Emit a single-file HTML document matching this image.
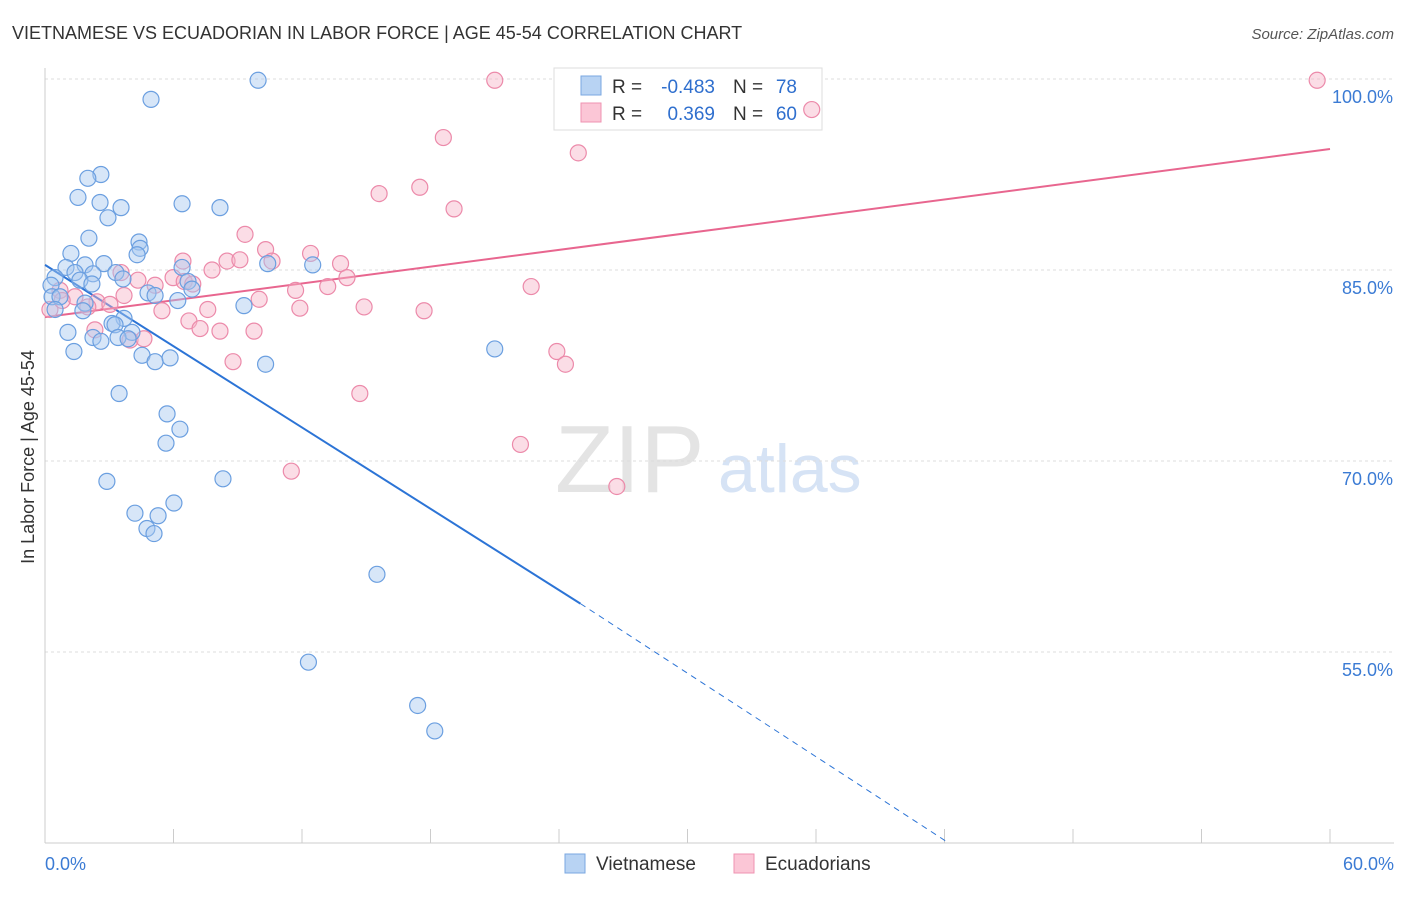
<!DOCTYPE html>
<html><head><meta charset="utf-8"><style>
body{margin:0;background:#fff;font-family:"Liberation Sans",sans-serif}
svg text{font-family:"Liberation Sans",sans-serif}
</style></head><body>
<svg id="chart" width="1406" height="892">
<text x="12" y="39" font-size="18" fill="#333">VIETNAMESE VS ECUADORIAN IN LABOR FORCE | AGE 45-54 CORRELATION CHART</text>
<text x="1394" y="39" font-size="15" fill="#555" font-style="italic" text-anchor="end">Source: ZipAtlas.com</text>
<text x="34" y="457" font-size="18" fill="#333" text-anchor="middle" transform="rotate(-90 34 457)">In Labor Force | Age 45-54</text>
<text x="555" y="492" font-size="96" fill="#e4e4e4" font-family="Liberation Serif">ZIP</text>
<text x="718" y="492" font-size="68" fill="#d6e3f5">atlas</text>
<g id="grid"></g><g id="axes"></g>
<g>
<rect x="554" y="68" width="268" height="62" fill="#fff" stroke="#ddd"/>
<rect x="581" y="76" width="20" height="19" fill="#b8d3f3" stroke="#7aa7e0"/>
<rect x="581" y="103" width="20" height="19" fill="#fbc6d6" stroke="#ef93b1"/>
<text x="612" y="93" font-size="19" fill="#333">R =</text>
<text x="715" y="93" font-size="19" fill="#2f6fce" text-anchor="end">-0.483</text>
<text x="733" y="93" font-size="19" fill="#333">N =</text>
<text x="797" y="93" font-size="19" fill="#2f6fce" text-anchor="end">78</text>
<text x="612" y="120" font-size="19" fill="#333">R =</text>
<text x="715" y="120" font-size="19" fill="#2f6fce" text-anchor="end">0.369</text>
<text x="733" y="120" font-size="19" fill="#333">N =</text>
<text x="797" y="120" font-size="19" fill="#2f6fce" text-anchor="end">60</text>
</g>
<g id="trends"></g><g id="pts"></g>
<g>
<rect x="565" y="854" width="20" height="19" fill="#b8d3f3" stroke="#7aa7e0"/>
<text x="596" y="870" font-size="19" fill="#333">Vietnamese</text>
<rect x="734" y="854" width="20" height="19" fill="#fbc6d6" stroke="#ef93b1"/>
<text x="765" y="870" font-size="19" fill="#333">Ecuadorians</text>
</g>
</svg>
<script>
const yTicks=[100,85,70,55];
const xTickLabels=["0.0%","60.0%"];
const blueX=[9.95,4.95,2.61,2.0,1.54,2.57,3.55,6.4,8.17,2.94,2.05,4.39,4.44,1.21,4.3,0.98,1.87,2.75,1.4,2.24,6.4,10.4,12.5,3.31,3.64,0.47,1.63,2.19,0.28,6.68,6.86,4.81,5.14,6.2,0.33,0.7,9.29,1.87,0.47,1.77,3.69,3.13,3.27,1.07,4.06,2.24,2.61,3.41,3.88,1.35,4.53,5.14,5.84,10.3,21.0,3.46,5.7,6.3,5.65,2.89,8.31,6.02,4.2,5.28,4.76,5.09,15.5,12.3,17.4,18.2];
const blueY=[99.9,98.4,92.5,92.2,90.7,90.3,89.9,90.2,89.9,89.1,87.5,87.2,86.7,86.3,86.2,85.2,85.4,85.5,84.8,84.7,85.2,85.5,85.4,84.8,84.3,84.4,84.2,83.9,83.8,84.1,83.5,83.2,83.0,82.6,82.9,82.9,82.2,82.4,81.9,81.8,81.2,80.8,80.7,80.1,80.1,79.7,79.4,79.7,79.6,78.6,78.3,77.8,78.1,77.6,78.8,75.3,73.7,72.5,71.4,68.4,68.6,66.7,65.9,65.7,64.7,64.3,61.1,54.2,50.8,48.8];
const pinkX=[21.0,59.4,35.8,18.6,24.9,17.5,15.6,19.1,9.34,10.3,6.44,8.5,9.1,10.6,12.4,13.8,7.8,14.1,3.55,4.34,5.98,6.5,5.14,6.9,13.2,11.7,22.7,10.0,3.69,1.4,2.43,3.03,2.0,14.9,11.9,7.6,5.46,17.7,0.23,6.72,7.24,8.17,9.76,2.33,3.97,4.62,23.9,24.3,8.78,14.7,22.2,11.5,26.7,0.7,0.8];
const pinkY=[99.9,99.9,97.6,95.4,94.2,91.5,91.0,89.8,87.8,86.6,85.7,85.7,85.8,85.7,86.3,85.5,85.0,84.4,84.8,84.2,84.4,84.1,83.8,83.9,83.7,83.4,83.7,82.7,83.0,82.9,82.5,82.3,82.1,82.1,82.0,81.9,81.8,81.8,81.9,81.0,80.4,80.2,80.2,80.3,79.5,79.6,78.6,77.6,77.8,75.3,71.3,69.2,68.0,83.4,82.6];
const blueTrend=[0,85.4,25.0,58.8,42.2,40];
const pinkTrend=[0,81.3,60,94.5];
const NS="http://www.w3.org/2000/svg";
const sx=v=>45+v/60*1285, sy=v=>79+(100-v)/15*191;
function mk(tag,parent,a){const e=document.createElementNS(NS,tag);for(const k in a)e.setAttribute(k,a[k]);document.getElementById(parent).appendChild(e);return e;}
yTicks.forEach(t=>{
 const l=mk('line','grid',{x1:45,x2:1394,y1:sy(t),y2:sy(t),stroke:'#ddd','stroke-dasharray':'3,3'});
 
 
 const tx=mk('text','grid',{x:1393,y:sy(t)+24,'font-size':18,fill:'#3b7bd4','text-anchor':'end'});
 tx.textContent=t.toFixed(1)+'%';
 
 
});
const ax=mk('line','axes',{x1:45,x2:45,y1:68,y2:843,stroke:'#ccc'});


const bx=mk('line','axes',{x1:45,x2:1394,y1:843,y2:843,stroke:'#ccc'});


for(let i=0;i<=10;i++){const t=mk('line','axes',{x1:sx(i*6),x2:sx(i*6),y1:829,y2:843,stroke:'#ccc'});
 
 }
[[0,'start',45],[1,'end',1394]].forEach(([i,anc,x])=>{const t=mk('text','axes',{x:x,y:870,'font-size':18,fill:'#3b7bd4','text-anchor':anc});t.textContent=xTickLabels[i];
 
 });
function dot(x,y,f,s){const c=mk('circle','pts',{cx:sx(x),cy:sy(y),r:8,fill:f,'fill-opacity':0.45,stroke:s,'stroke-width':1.2});
 
 }
pinkX.forEach((x,i)=>dot(x,pinkY[i],'#f7b3c8','#ec8aaa'));
blueX.forEach((x,i)=>dot(x,blueY[i],'#a6c7f0','#6b9fe0'));
const b1=mk('line','trends',{x1:sx(blueTrend[0]),y1:sy(blueTrend[1]),x2:sx(blueTrend[2]),y2:sy(blueTrend[3]),stroke:'#2c74d6','stroke-width':2});


const b2=mk('line','trends',{x1:sx(blueTrend[2]),y1:sy(blueTrend[3]),x2:sx(blueTrend[4]),y2:sy(blueTrend[5]),stroke:'#2c74d6','stroke-width':1,'stroke-dasharray':'6,5'});


const p1=mk('line','trends',{x1:sx(pinkTrend[0]),y1:sy(pinkTrend[1]),x2:sx(pinkTrend[2]),y2:sy(pinkTrend[3]),stroke:'#e8668f','stroke-width':2});


</script>
</body></html>
